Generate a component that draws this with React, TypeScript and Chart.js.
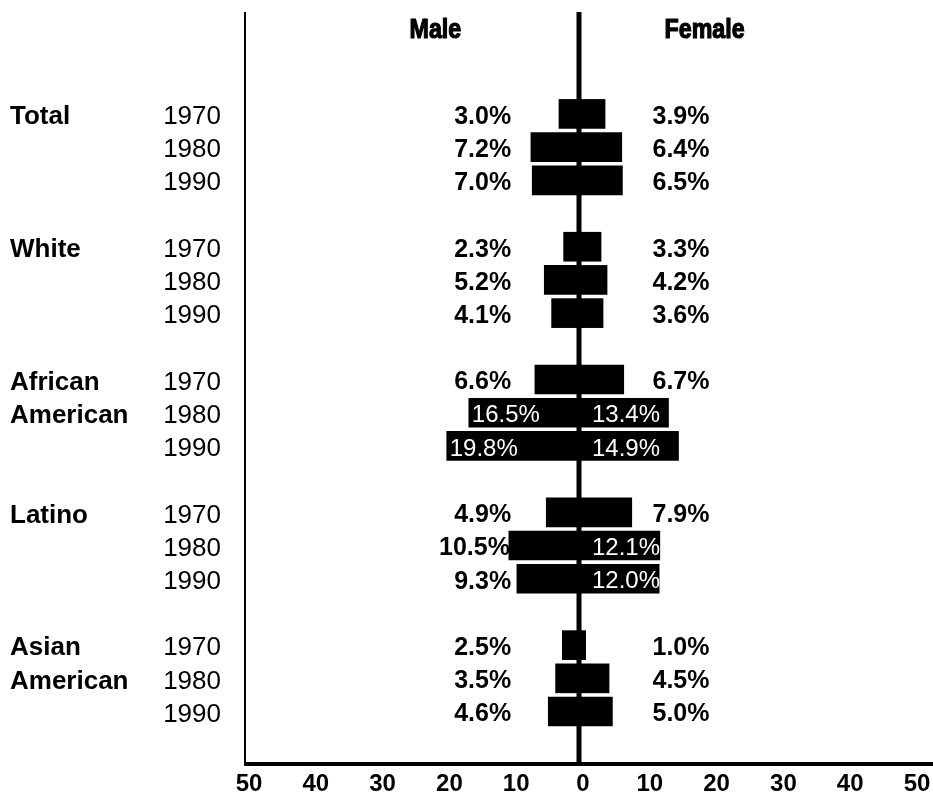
import React, { useEffect, useRef } from "react";
import { Chart, registerables } from "chart.js";

Chart.register(...registerables);

const GROUPS: string[][] = [["Total"], ["White"], ["African", "American"], ["Latino"], ["Asian", "American"]];
const YEARS = ["1970", "1980", "1990"];
const MALE = [3.0, 7.2, 7.0, 2.3, 5.2, 4.1, 6.6, 16.5, 19.8, 4.9, 10.5, 9.3, 2.5, 3.5, 4.6];
const FEMALE = [3.9, 6.4, 6.5, 3.3, 4.2, 3.6, 6.7, 13.4, 14.9, 7.9, 12.1, 12.0, 1.0, 4.5, 5.0];
const X_TICKS = [-50, -40, -30, -20, -10, 0, 10, 20, 30, 40, 50];
const HEADERS = [{ text: "Male", at: -21.5 }, { text: "Female", at: 18.8 }];

const FONT = "'Liberation Sans', Arial, Helvetica, sans-serif";

// row slot for each bar: groups separated by one empty slot
const ROWS = MALE.map((_, i) => Math.floor(i / 3) * 4 + (i % 3));

const overlay = {
  id: "overlay",
  afterDatasetsDraw(chart: any) {
    const { ctx, chartArea, scales } = chart;
    const xs = scales.x;
    const ys = scales.y;
    const top = chartArea.top;
    const bottom = chartArea.bottom;
    const x0 = xs.getPixelForValue(0);
    ctx.save();
    ctx.fillStyle = "#000";
    // left axis line
    ctx.fillRect(chartArea.left - 1, top, 2, bottom - top);
    // center line
    ctx.fillRect(x0 - 2.5, top, 5, bottom - top + 2);
    // bottom axis line
    ctx.fillRect(chartArea.left - 1, bottom - 1, chart.width - chartArea.left + 1, 4);

    // headers (heavy, condensed look)
    ctx.font = `bold 27px ${FONT}`;
    ctx.textAlign = "center";
    ctx.textBaseline = "middle";
    ctx.strokeStyle = "#000";
    ctx.lineWidth = 1.2;
    HEADERS.forEach((h) => {
      const cx = xs.getPixelForValue(h.at);
      ctx.save();
      ctx.translate(cx, 31);
      ctx.scale(0.86, 1);
      ctx.fillText(h.text, 0, 0);
      ctx.strokeText(h.text, 0, 0);
      ctx.restore();
    });

    // group labels
    ctx.font = `bold 26px ${FONT}`;
    ctx.textAlign = "left";
    GROUPS.forEach((lines, g) => {
      lines.forEach((line, li) => {
        ctx.fillText(line, 10, ys.getPixelForValue(g * 4 + li) + 3);
      });
    });

    // value labels
    const maleMeta = chart.getDatasetMeta(0);
    const femaleMeta = chart.getDatasetMeta(1);
    const maleCol = xs.getPixelForValue(-10) - 1;
    const femaleCol = xs.getPixelForValue(11);
    MALE.forEach((v, i) => {
      const el = maleMeta.data[i];
      const y = el.y + 3;
      const left = Math.min(el.x, el.base);
      const txt = v.toFixed(1) + "%";
      if (v > 12) {
        ctx.font = `24px ${FONT}`;
        ctx.fillStyle = "#fff";
        ctx.textAlign = "left";
        ctx.fillText(txt, left + 3, y);
      } else {
        ctx.font = `bold 25px ${FONT}`;
        ctx.fillStyle = "#000";
        ctx.textAlign = "right";
        ctx.fillText(txt, Math.min(maleCol, left + 1), y);
      }
    });
    FEMALE.forEach((v, i) => {
      const el = femaleMeta.data[i];
      const y = el.y + 3;
      const txt = v.toFixed(1) + "%";
      if (v > 10) {
        ctx.font = `24px ${FONT}`;
        ctx.fillStyle = "#fff";
        ctx.textAlign = "left";
        ctx.fillText(txt, x0 + 13, y);
      } else {
        ctx.font = `bold 25px ${FONT}`;
        ctx.fillStyle = "#000";
        ctx.textAlign = "left";
        ctx.fillText(txt, femaleCol, y);
      }
    });
    ctx.restore();
  },
};

export default function App() {
  const ref = useRef<HTMLCanvasElement | null>(null);
  useEffect(() => {
    if (!ref.current) return;
    const chart = new Chart(ref.current, {
      type: "bar",
      data: {
        datasets: [
          {
            label: "Male",
            data: MALE.map((v, i) => ({ x: -v, y: ROWS[i] })),
            backgroundColor: "#000",
            barThickness: 29,
            grouped: false,
          } as any,
          {
            label: "Female",
            data: FEMALE.map((v, i) => ({ x: v, y: ROWS[i] })),
            backgroundColor: "#000",
            barThickness: 29,
            grouped: false,
          } as any,
        ],
      },
      options: {
        indexAxis: "y",
        responsive: false,
        devicePixelRatio: 1,
        animation: false,
        layout: { padding: { left: 0, right: 20, top: 12, bottom: 0 } },
        plugins: { legend: { display: false }, tooltip: { enabled: false } },
        scales: {
          x: {
            type: "linear",
            min: -50,
            max: 50,
            offset: false,
            afterBuildTicks: (axis: any) => {
              axis.ticks = X_TICKS.map((v) => ({ value: v }));
            },
            afterFit: (axis: any) => {
              axis.height = 32;
              axis.paddingLeft = 0;
              axis.paddingRight = 0;
            },
            grid: { display: false, drawTicks: false },
            border: { display: false },
            ticks: {
              autoSkip: false,
              maxRotation: 0,
              padding: 7,
              labelOffset: 4,
              color: "#000",
              font: { family: FONT, size: 24, weight: "bold" },
              callback: (v: any) => String(Math.abs(Number(v))),
            },
          },
          y: {
            type: "linear",
            reverse: true,
            offset: false,
            min: -3.07,
            max: 19.55,
            afterBuildTicks: (axis: any) => {
              axis.ticks = ROWS.map((r) => ({ value: r }));
            },
            afterFit: (axis: any) => {
              axis.width = 245;
              axis.paddingTop = 0;
              axis.paddingBottom = 0;
            },
            grid: { display: false, drawTicks: false, offset: false },
            border: { display: false },
            ticks: {
              autoSkip: false,
              padding: 24,
              labelOffset: 3,
              color: "#000",
              font: { family: FONT, size: 26 },
              callback: (_v: any, idx: number) => YEARS[idx % 3],
            },
          },
        },
      } as any,
      plugins: [overlay],
    });
    return () => chart.destroy();
  }, []);
  return (
    <div style={{ position: "absolute", left: 0, top: 0, width: 933, height: 795, background: "#fff" }}>
      <canvas ref={ref} width={933} height={795} />
    </div>
  );
}
